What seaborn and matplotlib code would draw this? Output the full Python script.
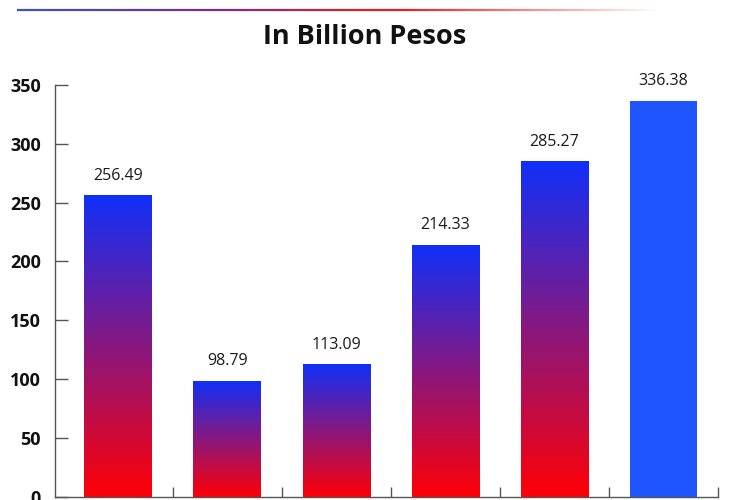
import numpy as np
import pandas as pd
import matplotlib
matplotlib.use("Agg")
import matplotlib.pyplot as plt
import seaborn as sns
from matplotlib.colors import to_rgb
from matplotlib.collections import LineCollection

# ---- data ----
categories = ["Bar 1", "Bar 2", "Bar 3", "Bar 4", "Bar 5", "Bar 6"]
values = [256.49, 98.79, 113.09, 214.33, 285.27, 336.38]
y_ticks = [0, 50, 100, 150, 200, 250, 300, 350]
title = "In Billion Pesos"

sns.set_theme(style="white")
plt.rcParams["font.family"] = ["Open Sans", "DejaVu Sans"]

fig = plt.figure(figsize=(7.4, 5.0), dpi=100)
ax = fig.add_axes([55 / 740, 3 / 500, (718 - 55) / 740, (497 - 84.7) / 500])

df = pd.DataFrame({"cat": categories, "val": values})
sns.barplot(data=df, x="cat", y="val", ax=ax, width=0.62, color="#1e55ff",
            saturation=1, linewidth=0, zorder=2)

blue_top = np.array(to_rgb("#0f30fa"))
red_bot = np.array(to_rgb("#ff0005"))
grad = np.linspace(0, 1, 256)[:, None, None]
grad_img = red_bot * (1 - grad) + blue_top * grad  # row 0 = bottom (red)

patches = list(ax.patches)
for i, p in enumerate(patches):
    if i == len(patches) - 1:
        continue  # last bar solid blue
    x0, y0 = p.get_x(), p.get_y()
    w, h = p.get_width(), p.get_height()
    p.set_facecolor("none")
    im = ax.imshow(grad_img, extent=[x0, x0 + w, y0, y0 + h], origin="lower",
                   aspect="auto", zorder=2, interpolation="bilinear")
    im.set_clip_path(p)

for p, v in zip(patches, values):
    ax.annotate(f"{v:.2f}", (p.get_x() + p.get_width() / 2, v),
                xytext=(0, 11), textcoords="offset points", ha="center",
                va="baseline", fontsize=11.5, color="#1a1a1a")

ax.set_xlim(-0.58, 5.5)
ax.set_ylim(0, 350)
ax.set_yticks(y_ticks)
ax.set_yticklabels([str(t) for t in y_ticks], fontsize=13, fontweight="bold",
                   color="#111111")
ax.set_xticks([0.5, 1.5, 2.5, 3.5, 4.5, 5.5])
ax.set_xticklabels([])
ax.set_xlabel("")
ax.set_ylabel("")
ax.tick_params(axis="y", direction="in", length=9.5, width=1, color="#555555",
               pad=10, left=True)
ax.tick_params(axis="x", direction="in", length=7, width=1, color="#555555",
               bottom=True)
for s in ["top", "right"]:
    ax.spines[s].set_visible(False)
for s in ["left", "bottom"]:
    ax.spines[s].set_color("#555555")
    ax.spines[s].set_linewidth(1)

# title
fig.text(365 / 740, 1 - 37 / 500, title, ha="center", va="center",
         fontsize=19.5, fontweight="bold", color="#111111")

# decorative gradient line at top (figure coordinates)
n = 400
xs = np.linspace(17 / 740, 660 / 740, n + 1)
yl = 1 - 9.5 / 500
segs = [[(xs[k], yl), (xs[k + 1], yl)] for k in range(n)]
c_blue = np.array(to_rgb("#3a55c0"))
c_purp = np.array(to_rgb("#7a2a90"))
c_red = np.array(to_rgb("#e02020"))
cols = []
for k in range(n):
    tt = k / (n - 1)
    if tt < 0.3:
        c = c_blue + (c_purp - c_blue) * (tt / 0.3)
    elif tt < 0.55:
        c = c_purp + (c_red - c_purp) * ((tt - 0.3) / 0.25)
    else:
        c = c_red
    a = 1.0 if tt < 0.6 else max(0.0, 1 - (tt - 0.6) / 0.4)
    cols.append((*c, a))
lc = LineCollection(segs, colors=cols, linewidths=1.6, transform=fig.transFigure,
                    capstyle="butt")
fig.add_artist(lc)

fig.savefig("out.png", dpi=100)
